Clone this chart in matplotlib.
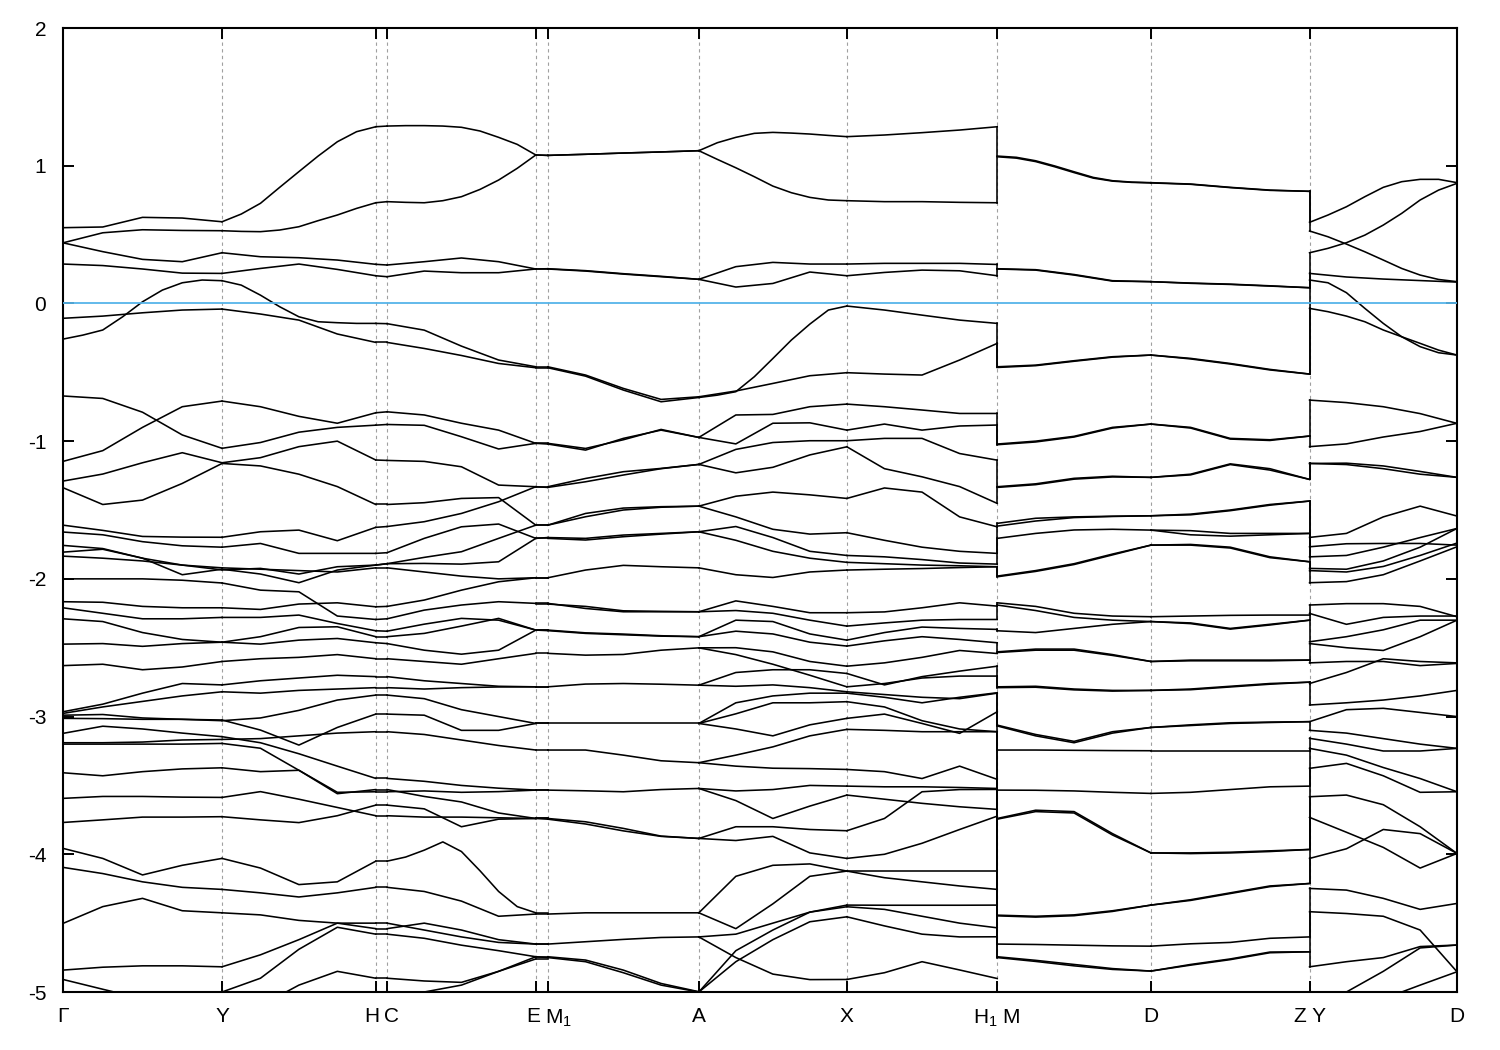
import numpy as np
import matplotlib
matplotlib.use('Agg')
import matplotlib.pyplot as plt
from matplotlib.transforms import ScaledTranslation

plt.rcParams['font.family'] = ['Liberation Sans Narrow', 'Liberation Sans', 'DejaVu Sans']
plt.rcParams['mathtext.fontset'] = 'custom'
plt.rcParams['mathtext.rm'] = 'Liberation Sans'
plt.rcParams['mathtext.it'] = 'Liberation Sans'
plt.rcParams['axes.unicode_minus'] = False

# high-symmetry points along the k-path
tick_pos = [0.0, 0.159, 0.3127, 0.324, 0.4727, 0.4847, 0.6357, 0.7837, 0.934, 1.0877, 1.2463, 1.3937]
tick_labels = ['Γ', 'Y', 'H', 'C', 'E', 'M$_1$', 'A', 'X', 'H$_1$ M', 'D', 'Z Y', 'D']

# band energies (eV), sampled evenly along each path segment
seg_GY = [
    [0.55, 0.555, 0.625, 0.62, 0.593],
    [0.44, 0.513, 0.535, 0.53, 0.528],
    [0.44, 0.376, 0.32, 0.303, 0.368],
    [0.286, 0.275, 0.25, 0.22, 0.218],
    [-0.108, -0.092, -0.068, -0.048, -0.041],
    [-0.259, -0.23, -0.193, -0.097, 0.012, 0.097, 0.15, 0.17, 0.165],
    [-0.672, -0.69, -0.79, -0.955, -1.052],
    [-1.147, -1.069, -0.90, -0.75, -0.709],
    [-1.29, -1.239, -1.157, -1.084, -1.157],
    [-1.338, -1.46, -1.428, -1.307, -1.162],
    [-1.61, -1.648, -1.692, -1.697, -1.698],
    [-1.66, -1.68, -1.73, -1.76, -1.77],
    [-1.757, -1.78, -1.85, -1.90, -1.935],
    [-1.806, -1.785, -1.85, -1.97, -1.93],
    [-1.835, -1.85, -1.87, -1.90, -1.92],
    [-2.0, -2.0, -2.0, -2.01, -2.03],
    [-2.166, -2.17, -2.2, -2.21, -2.21],
    [-2.21, -2.25, -2.29, -2.29, -2.28],
    [-2.29, -2.31, -2.39, -2.44, -2.46],
    [-2.474, -2.47, -2.49, -2.47, -2.46],
    [-2.63, -2.62, -2.66, -2.64, -2.60],
    [-2.965, -2.91, -2.83, -2.76, -2.77],
    [-2.977, -2.93, -2.89, -2.85, -2.82],
    [-2.99, -2.985, -3.01, -3.02, -3.025],
    [-3.013, -3.015, -3.02, -3.02, -3.03],
    [-3.122, -3.07, -3.09, -3.12, -3.146],
    [-3.19, -3.19, -3.185, -3.17, -3.166],
    [-3.2, -3.2, -3.2, -3.2, -3.195],
    [-3.408, -3.43, -3.40, -3.38, -3.372],
    [-3.594, -3.58, -3.58, -3.585, -3.587],
    [-3.769, -3.75, -3.73, -3.73, -3.727],
    [-3.957, -4.03, -4.15, -4.08, -4.03],
    [-4.095, -4.14, -4.2, -4.24, -4.255],
    [-4.502, -4.38, -4.32, -4.41, -4.425],
    [-4.841, -4.82, -4.81, -4.81, -4.817],
    [-4.909, -4.98, -5.05, -5.1, -5.1],
]

seg_YH = [
    [0.593, 0.649, 0.727, 0.843, 0.957, 1.07, 1.174, 1.247, 1.283],
    [0.528, 0.523, 0.521, 0.533, 0.557, 0.601, 0.642, 0.69, 0.731],
    [0.368, 0.339, 0.332, 0.315, 0.284],
    [0.218, 0.254, 0.286, 0.247, 0.201],
    [0.165, 0.133, 0.06, -0.024, -0.097, -0.133, -0.14, -0.145, -0.145],
    [-0.041, -0.077, -0.121, -0.222, -0.283],
    [-0.709, -0.75, -0.82, -0.87, -0.794],
    [-1.052, -1.01, -0.935, -0.90, -0.884],
    [-1.157, -1.12, -1.04, -1.0, -1.137],
    [-1.162, -1.18, -1.24, -1.33, -1.46],
    [-1.698, -1.658, -1.646, -1.723, -1.626],
    [-1.77, -1.743, -1.815, -1.815, -1.815],
    [-1.935, -1.924, -1.965, -1.912, -1.90],
    [-1.93, -1.965, -2.028, -1.936, -1.90],
    [-1.92, -1.93, -1.94, -1.95, -1.92],
    [-2.03, -2.082, -2.094, -2.27, -2.295],
    [-2.21, -2.222, -2.183, -2.174, -2.203],
    [-2.28, -2.28, -2.263, -2.324, -2.377],
    [-2.46, -2.42, -2.353, -2.348, -2.42],
    [-2.46, -2.474, -2.445, -2.433, -2.464],
    [-2.60, -2.58, -2.57, -2.55, -2.58],
    [-2.77, -2.74, -2.72, -2.70, -2.71],
    [-2.82, -2.83, -2.81, -2.80, -2.79],
    [-3.025, -3.098, -3.207, -3.079, -2.982],
    [-3.03, -3.01, -2.955, -2.88, -2.844],
    [-3.146, -3.19, -3.27, -3.36, -3.449],
    [-3.166, -3.16, -3.14, -3.12, -3.11],
    [-3.195, -3.23, -3.39, -3.55, -3.546],
    [-3.372, -3.40, -3.39, -3.56, -3.53],
    [-3.587, -3.545, -3.60, -3.66, -3.72],
    [-3.727, -3.75, -3.77, -3.72, -3.643],
    [-4.03, -4.1, -4.22, -4.20, -4.05],
    [-4.255, -4.28, -4.31, -4.28, -4.24],
    [-4.425, -4.44, -4.48, -4.50, -4.54],
    [-4.817, -4.73, -4.62, -4.50, -4.50],
    [-5.0, -4.90, -4.69, -4.53, -4.58],
    [-5.2, -5.1, -4.95, -4.85, -4.90],
]

seg_CE = [
    [1.288, 1.291, 1.291, 1.288, 1.279, 1.252, 1.206, 1.155, 1.078],
    [0.739, 0.734, 0.731, 0.746, 0.775, 0.828, 0.896, 0.981, 1.078],
    [0.279, 0.303, 0.33, 0.303, 0.25],
    [0.194, 0.235, 0.223, 0.223, 0.25],
    [-0.147, -0.194, -0.31, -0.411, -0.46],
    [-0.283, -0.327, -0.378, -0.436, -0.467],
    [-0.787, -0.81, -0.87, -0.92, -1.016],
    [-0.879, -0.885, -0.968, -1.057, -1.016],
    [-1.14, -1.147, -1.186, -1.319, -1.331],
    [-1.46, -1.447, -1.416, -1.41, -1.61],
    [-1.62, -1.585, -1.525, -1.44, -1.331],
    [-1.81, -1.706, -1.622, -1.602, -1.706],
    [-1.89, -1.844, -1.803, -1.706, -1.61],
    [-1.89, -1.888, -1.893, -1.876, -1.706],
    [-1.92, -1.95, -1.98, -2.0, -1.992],
    [-2.29, -2.227, -2.19, -2.166, -2.178],
    [-2.2, -2.154, -2.082, -2.021, -1.992],
    [-2.38, -2.329, -2.287, -2.3, -2.372],
    [-2.42, -2.396, -2.343, -2.287, -2.372],
    [-2.47, -2.518, -2.547, -2.518, -2.372],
    [-2.58, -2.6, -2.62, -2.58, -2.541],
    [-2.71, -2.74, -2.76, -2.78, -2.784],
    [-2.79, -2.80, -2.79, -2.785, -2.784],
    [-2.844, -2.87, -2.95, -3.0, -3.05],
    [-2.982, -2.99, -3.1, -3.1, -3.05],
    [-3.11, -3.13, -3.17, -3.21, -3.243],
    [-3.449, -3.47, -3.50, -3.52, -3.534],
    [-3.546, -3.54, -3.55, -3.545, -3.534],
    [-3.53, -3.58, -3.62, -3.70, -3.74],
    [-3.643, -3.67, -3.80, -3.745, -3.74],
    [-3.72, -3.73, -3.73, -3.735, -3.74],
    [-4.05, -4.02, -3.97, -3.91, -3.98, -4.12, -4.27, -4.38, -4.425],
    [-4.24, -4.27, -4.34, -4.45, -4.434],
    [-4.54, -4.50, -4.55, -4.62, -4.652],
    [-4.50, -4.55, -4.6, -4.64, -4.652],
    [-4.58, -4.61, -4.66, -4.70, -4.744],
    [-4.90, -4.92, -4.93, -4.85, -4.744],
    [-5.1, -5.0, -4.95, -4.85, -4.76],
]

seg_M1A = [
    [1.075, 1.083, 1.092, 1.10, 1.109],
    [1.075, 1.083, 1.092, 1.10, 1.109],
    [0.25, 0.235, 0.213, 0.194, 0.175],
    [0.252, 0.238, 0.216, 0.197, 0.175],
    [-0.467, -0.528, -0.629, -0.714, -0.683],
    [-0.46, -0.52, -0.617, -0.697, -0.678],
    [-1.021, -1.065, -0.98, -0.92, -0.973],
    [-1.016, -1.053, -0.99, -0.915, -0.973],
    [-1.331, -1.271, -1.222, -1.198, -1.169],
    [-1.336, -1.295, -1.246, -1.20, -1.169],
    [-1.61, -1.525, -1.486, -1.476, -1.472],
    [-1.61, -1.549, -1.5, -1.48, -1.472],
    [-1.706, -1.718, -1.694, -1.675, -1.658],
    [-1.70, -1.706, -1.682, -1.67, -1.658],
    [-1.992, -1.936, -1.902, -1.912, -1.92],
    [-2.178, -2.215, -2.239, -2.239, -2.239],
    [-2.183, -2.2, -2.232, -2.236, -2.239],
    [-2.372, -2.392, -2.401, -2.413, -2.42],
    [-2.376, -2.396, -2.406, -2.416, -2.42],
    [-2.541, -2.554, -2.549, -2.518, -2.501],
    [-2.784, -2.764, -2.76, -2.765, -2.772],
    [-3.05, -3.05, -3.05, -3.05, -3.05],
    [-3.243, -3.243, -3.28, -3.321, -3.335],
    [-3.534, -3.539, -3.546, -3.53, -3.522],
    [-3.74, -3.764, -3.812, -3.868, -3.885],
    [-3.745, -3.78, -3.83, -3.87, -3.885],
    [-4.434, -4.425, -4.425, -4.425, -4.425],
    [-4.652, -4.635, -4.618, -4.604, -4.60],
    [-4.744, -4.768, -4.841, -4.938, -4.998],
    [-4.75, -4.78, -4.86, -4.95, -5.0],
]

seg_AX = [
    [1.109, 1.167, 1.206, 1.235, 1.242, 1.237, 1.23, 1.22, 1.211],
    [1.109, 1.046, 0.985, 0.92, 0.852, 0.804, 0.77, 0.751, 0.746],
    [0.175, 0.267, 0.298, 0.286, 0.286],
    [0.175, 0.119, 0.145, 0.228, 0.201],
    [-0.683, -0.666, -0.641, -0.532, -0.40, -0.266, -0.15, -0.048, -0.019],
    [-0.678, -0.636, -0.581, -0.525, -0.503],
    [-0.973, -0.81, -0.806, -0.75, -0.731],
    [-0.973, -1.02, -0.87, -0.867, -0.92],
    [-1.169, -1.06, -1.01, -0.997, -0.997],
    [-1.169, -1.23, -1.19, -1.10, -1.041],
    [-1.472, -1.40, -1.37, -1.39, -1.416],
    [-1.472, -1.55, -1.64, -1.675, -1.665],
    [-1.658, -1.62, -1.70, -1.80, -1.83],
    [-1.658, -1.72, -1.80, -1.85, -1.88],
    [-1.92, -1.97, -1.99, -1.95, -1.936],
    [-2.239, -2.16, -2.2, -2.246, -2.246],
    [-2.239, -2.23, -2.25, -2.30, -2.343],
    [-2.42, -2.30, -2.31, -2.40, -2.445],
    [-2.42, -2.38, -2.40, -2.46, -2.488],
    [-2.501, -2.50, -2.53, -2.60, -2.634],
    [-2.501, -2.55, -2.62, -2.70, -2.784],
    [-2.772, -2.68, -2.66, -2.66, -2.687],
    [-2.772, -2.78, -2.77, -2.79, -2.82],
    [-3.05, -2.90, -2.85, -2.83, -2.83],
    [-3.05, -2.98, -2.90, -2.90, -2.892],
    [-3.05, -3.09, -3.14, -3.06, -3.013],
    [-3.335, -3.28, -3.22, -3.14, -3.093],
    [-3.335, -3.36, -3.375, -3.378, -3.384],
    [-3.522, -3.54, -3.53, -3.50, -3.505],
    [-3.522, -3.61, -3.74, -3.65, -3.57],
    [-3.885, -3.80, -3.80, -3.82, -3.829],
    [-3.885, -3.90, -3.87, -3.99, -4.03],
    [-4.425, -4.16, -4.08, -4.07, -4.122],
    [-4.425, -4.54, -4.36, -4.16, -4.122],
    [-4.60, -4.58, -4.50, -4.42, -4.381],
    [-5.0, -4.70, -4.55, -4.42, -4.369],
    [-5.0, -4.78, -4.62, -4.49, -4.454],
    [-4.60, -4.75, -4.87, -4.91, -4.909],
]

seg_XH1 = [
    [1.211, 1.223, 1.24, 1.259, 1.283],
    [0.746, 0.739, 0.739, 0.734, 0.731],
    [0.286, 0.291, 0.291, 0.291, 0.283],
    [0.201, 0.225, 0.242, 0.237, 0.201],
    [-0.019, -0.048, -0.085, -0.121, -0.145],
    [-0.503, -0.513, -0.52, -0.411, -0.29],
    [-0.731, -0.75, -0.774, -0.799, -0.799],
    [-0.92, -0.876, -0.92, -0.89, -0.883],
    [-0.997, -0.98, -0.98, -1.09, -1.138],
    [-1.041, -1.2, -1.259, -1.33, -1.452],
    [-1.416, -1.34, -1.37, -1.55, -1.622],
    [-1.665, -1.72, -1.77, -1.80, -1.815],
    [-1.83, -1.84, -1.86, -1.885, -1.893],
    [-1.88, -1.89, -1.90, -1.905, -1.912],
    [-1.936, -1.93, -1.925, -1.918, -1.912],
    [-2.246, -2.24, -2.21, -2.174, -2.198],
    [-2.343, -2.32, -2.30, -2.295, -2.295],
    [-2.445, -2.39, -2.35, -2.36, -2.367],
    [-2.488, -2.45, -2.42, -2.44, -2.464],
    [-2.634, -2.61, -2.57, -2.52, -2.542],
    [-2.784, -2.76, -2.72, -2.706, -2.706],
    [-2.687, -2.77, -2.71, -2.67, -2.634],
    [-2.82, -2.84, -2.86, -2.87, -2.83],
    [-2.83, -2.86, -2.90, -2.86, -2.827],
    [-2.892, -2.93, -3.03, -3.09, -3.11],
    [-3.013, -2.982, -3.05, -3.122, -2.965],
    [-3.093, -3.10, -3.11, -3.11, -3.11],
    [-3.384, -3.40, -3.45, -3.36, -3.456],
    [-3.505, -3.51, -3.51, -3.515, -3.522],
    [-3.57, -3.60, -3.63, -3.655, -3.674],
    [-3.829, -3.74, -3.546, -3.53, -3.529],
    [-4.03, -4.0, -3.92, -3.82, -3.723],
    [-4.122, -4.122, -4.122, -4.122, -4.122],
    [-4.122, -4.17, -4.20, -4.23, -4.255],
    [-4.381, -4.40, -4.45, -4.50, -4.534],
    [-4.369, -4.37, -4.37, -4.37, -4.369],
    [-4.454, -4.52, -4.58, -4.60, -4.599],
    [-4.909, -4.86, -4.78, -4.84, -4.902],
]

seg_MD = [
    [1.07, 1.061, 1.036, 0.998, 0.956, 0.915, 0.891, 0.881, 0.877],
    [1.065, 1.055, 1.03, 0.992, 0.95, 0.91, 0.888, 0.879, 0.875],
    [0.25, 0.242, 0.206, 0.162, 0.158],
    [0.252, 0.245, 0.21, 0.165, 0.158],
    [-0.46, -0.448, -0.416, -0.387, -0.375],
    [-0.465, -0.452, -0.42, -0.39, -0.375],
    [-1.021, -1.0, -0.965, -0.90, -0.876],
    [-1.026, -1.006, -0.97, -0.905, -0.876],
    [-1.331, -1.31, -1.27, -1.255, -1.263],
    [-1.336, -1.316, -1.276, -1.26, -1.263],
    [-1.597, -1.56, -1.55, -1.545, -1.542],
    [-1.617, -1.58, -1.555, -1.547, -1.542],
    [-1.706, -1.67, -1.645, -1.64, -1.646],
    [-1.98, -1.94, -1.89, -1.82, -1.755],
    [-1.985, -1.946, -1.896, -1.826, -1.755],
    [-2.174, -2.2, -2.25, -2.27, -2.275],
    [-2.19, -2.23, -2.28, -2.30, -2.31],
    [-2.377, -2.39, -2.36, -2.33, -2.31],
    [-2.53, -2.51, -2.51, -2.55, -2.60],
    [-2.535, -2.518, -2.518, -2.556, -2.60],
    [-2.784, -2.78, -2.80, -2.81, -2.81],
    [-2.79, -2.787, -2.806, -2.815, -2.81],
    [-3.062, -3.13, -3.18, -3.11, -3.079],
    [-3.068, -3.14, -3.19, -3.12, -3.079],
    [-3.243, -3.243, -3.245, -3.247, -3.248],
    [-3.534, -3.535, -3.54, -3.55, -3.558],
    [-3.74, -3.68, -3.69, -3.85, -3.99],
    [-3.745, -3.69, -3.70, -3.86, -3.99],
    [-4.442, -4.45, -4.44, -4.41, -4.369],
    [-4.447, -4.456, -4.446, -4.415, -4.369],
    [-4.652, -4.655, -4.66, -4.665, -4.667],
    [-4.744, -4.77, -4.80, -4.83, -4.848],
    [-4.75, -4.778, -4.81, -4.836, -4.848],
]

seg_DZ = [
    [0.877, 0.867, 0.843, 0.823, 0.814],
    [0.875, 0.865, 0.841, 0.821, 0.814],
    [0.158, 0.146, 0.138, 0.126, 0.114],
    [0.158, 0.148, 0.14, 0.128, 0.114],
    [-0.375, -0.399, -0.436, -0.479, -0.513],
    [-0.375, -0.403, -0.44, -0.483, -0.513],
    [-0.876, -0.90, -0.98, -0.99, -0.963],
    [-0.876, -0.905, -0.985, -0.995, -0.963],
    [-1.263, -1.24, -1.165, -1.20, -1.278],
    [-1.263, -1.245, -1.17, -1.21, -1.278],
    [-1.542, -1.53, -1.50, -1.46, -1.435],
    [-1.542, -1.535, -1.505, -1.465, -1.435],
    [-1.646, -1.68, -1.69, -1.68, -1.67],
    [-1.646, -1.65, -1.67, -1.67, -1.67],
    [-1.755, -1.75, -1.77, -1.84, -1.876],
    [-1.755, -1.755, -1.776, -1.846, -1.876],
    [-2.275, -2.27, -2.265, -2.263, -2.263],
    [-2.31, -2.32, -2.36, -2.33, -2.30],
    [-2.31, -2.325, -2.365, -2.335, -2.30],
    [-2.60, -2.59, -2.59, -2.59, -2.59],
    [-2.60, -2.595, -2.595, -2.595, -2.59],
    [-2.81, -2.80, -2.78, -2.76, -2.75],
    [-2.81, -2.805, -2.785, -2.765, -2.75],
    [-3.079, -3.06, -3.045, -3.04, -3.037],
    [-3.079, -3.065, -3.05, -3.043, -3.037],
    [-3.248, -3.248, -3.248, -3.248, -3.248],
    [-3.558, -3.55, -3.53, -3.51, -3.505],
    [-3.99, -3.99, -3.985, -3.975, -3.965],
    [-3.99, -3.995, -3.99, -3.98, -3.965],
    [-4.369, -4.33, -4.28, -4.23, -4.212],
    [-4.369, -4.335, -4.285, -4.235, -4.212],
    [-4.667, -4.65, -4.64, -4.61, -4.60],
    [-4.848, -4.80, -4.76, -4.71, -4.708],
    [-4.848, -4.805, -4.765, -4.715, -4.708],
]

seg_YD = [
    [0.589, 0.642, 0.702, 0.775, 0.843, 0.884, 0.901, 0.901, 0.877],
    [0.368, 0.4, 0.441, 0.496, 0.569, 0.654, 0.751, 0.823, 0.872],
    [0.526, 0.484, 0.431, 0.375, 0.315, 0.254, 0.206, 0.174, 0.158],
    [0.218, 0.192, 0.177, 0.166, 0.155],
    [0.17, 0.15, 0.078, -0.036, -0.145, -0.242, -0.314, -0.358, -0.375],
    [-0.036, -0.06, -0.092, -0.133, -0.193, -0.242, -0.29, -0.339, -0.375],
    [-0.702, -0.72, -0.75, -0.80, -0.871],
    [-1.04, -1.02, -0.97, -0.93, -0.87],
    [-1.162, -1.16, -1.18, -1.22, -1.263],
    [-1.162, -1.17, -1.20, -1.24, -1.263],
    [-1.699, -1.67, -1.55, -1.472, -1.544],
    [-1.767, -1.745, -1.743, -1.743, -1.755],
    [-1.84, -1.83, -1.77, -1.70, -1.634],
    [-1.924, -1.93, -1.87, -1.77, -1.634],
    [-1.94, -1.95, -1.91, -1.83, -1.74],
    [-2.028, -2.02, -1.97, -1.87, -1.767],
    [-2.19, -2.18, -2.18, -2.20, -2.275],
    [-2.251, -2.33, -2.28, -2.27, -2.27],
    [-2.457, -2.42, -2.37, -2.30, -2.30],
    [-2.47, -2.50, -2.52, -2.42, -2.30],
    [-2.61, -2.60, -2.60, -2.63, -2.614],
    [-2.76, -2.68, -2.58, -2.60, -2.61],
    [-2.916, -2.90, -2.88, -2.85, -2.81],
    [-3.037, -2.95, -2.94, -2.97, -3.0],
    [-3.10, -3.12, -3.16, -3.2, -3.231],
    [-3.158, -3.2, -3.25, -3.25, -3.231],
    [-3.231, -3.28, -3.37, -3.45, -3.546],
    [-3.376, -3.34, -3.43, -3.55, -3.546],
    [-3.582, -3.57, -3.64, -3.80, -3.994],
    [-3.732, -3.84, -3.95, -4.10, -3.994],
    [-4.03, -3.96, -3.82, -3.85, -3.994],
    [-4.248, -4.26, -4.32, -4.40, -4.357],
    [-4.417, -4.43, -4.45, -4.55, -4.853],
    [-4.817, -4.78, -4.75, -4.67, -4.659],
    [-5.05, -5.0, -4.85, -4.68, -4.659],
    [-5.1, -5.1, -5.05, -4.95, -4.853],
]

fermi_level = 0.0
y_ticks = [-5, -4, -3, -2, -1, 0, 1, 2]

# ---------------------------------------------------------------------------
fig = plt.figure(figsize=(15, 10.5), dpi=100)
ax = fig.add_axes([63 / 1500, 58 / 1050, 1394 / 1500, 964 / 1050])

band_kw = dict(color='black', lw=1.15, zorder=3, solid_joinstyle='round')

segments = [
    (0, 1, seg_GY), (1, 2, seg_YH), (3, 4, seg_CE), (5, 6, seg_M1A),
    (6, 7, seg_AX), (7, 8, seg_XH1), (8, 9, seg_MD), (9, 10, seg_DZ),
    (10, 11, seg_YD),
]
for i0, i1, curves in segments:
    k0, k1 = tick_pos[i0], tick_pos[i1]
    for c in curves:
        ax.plot(np.linspace(k0, k1, len(c)), c, **band_kw)


def nearest_pairs(left, right, tol=0.1):
    left = list(left)
    right = list(right)
    cand = sorted(((abs(a - b), i, j) for i, a in enumerate(left) for j, b in enumerate(right)))
    used_l, used_r, pairs = set(), set(), []
    for d, i, j in cand:
        if d > tol or i in used_l or j in used_r:
            continue
        used_l.add(i); used_r.add(j)
        pairs.append((left[i], right[j]))
    pairs += [(a, a) for i, a in enumerate(left) if i not in used_l]
    pairs += [(b, b) for j, b in enumerate(right) if j not in used_r]
    return pairs


# short connecting segments H-C and E-M1
for (iL, curvesL), (iR, curvesR) in [((2, seg_YH), (3, seg_CE)), ((4, seg_CE), (5, seg_M1A))]:
    ends = [c[-1] for c in curvesL]
    starts = [c[0] for c in curvesR]
    for a, b in nearest_pairs(ends, starts):
        ax.plot([tick_pos[iL], tick_pos[iR]], [a, b], **band_kw)

# discontinuities in the path (H1|M and Z|Y): vertical jumps
for ib, curvesL, curvesR in [(8, seg_XH1, seg_MD), (10, seg_DZ, seg_YD)]:
    ends = sorted([c[-1] for c in curvesL], reverse=True)
    starts = sorted([c[0] for c in curvesR], reverse=True)
    for a, b in zip(ends, starts):
        ax.plot([tick_pos[ib], tick_pos[ib]], [a, b], **band_kw)

ax.axhline(fermi_level, color='#56b4e9', lw=1.3, zorder=4)

for k in tick_pos[1:-1]:
    ax.axvline(k, color='#a0a0a0', lw=0.8, ls=(0, (3, 3)), zorder=1)

ax.set_xlim(tick_pos[0], tick_pos[-1])
ax.set_ylim(-5, 2)
ax.set_yticks(y_ticks)
ax.set_yticklabels([str(v) for v in y_ticks])
ax.set_xticks(tick_pos)
ax.set_xticklabels(tick_labels)

for s in ax.spines.values():
    s.set_linewidth(1.5)
ax.tick_params(axis='y', direction='in', length=8, width=1.4, right=True, labelsize=15, pad=12)
ax.tick_params(axis='x', direction='in', length=8, width=1.4, top=True, labelsize=15, pad=11)

# closely spaced labels (H|C and E|M1) sit side by side
xlabels = ax.get_xticklabels()
for idx, ha, dx in [(2, 'right', 4), (3, 'left', -3), (4, 'right', 4), (5, 'left', -3)]:
    lab = xlabels[idx]
    lab.set_ha(ha)
    lab.set_transform(lab.get_transform() + ScaledTranslation(dx / 100, 0, fig.dpi_scale_trans))

fig.savefig('out.png', dpi=100)
